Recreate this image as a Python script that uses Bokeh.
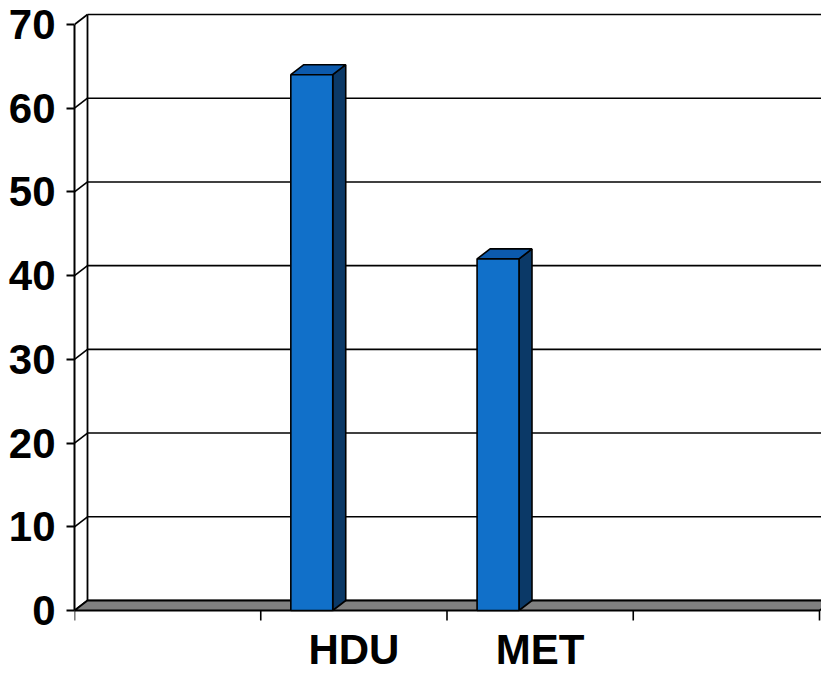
from bokeh.plotting import figure
from bokeh.models import Range1d, FixedTicker
from bokeh.embed import file_html
from bokeh.resources import INLINE
from bokeh.core.properties import value

# Data
categories = ["", "HDU", "MET", ""]
bar_values = [None, 64, 42, None]
y_ticks = [0, 10, 20, 30, 40, 50, 60, 70]

# Geometry (pixels per data unit and 3D depth offset)
PX_X = 186.25
PX_Y = 586 / 70
DX = 13 / PX_X
DY = 10 / PX_Y
BAR_W = 0.225
BAR_SHIFT = -0.226
N = len(categories)
YMAX = y_ticks[-1]

FRONT = "#1170C9"
TOP = "#0C5AAD"
SIDE = "#0B3967"
FLOOR = "#808080"

p = figure(width=821, height=673,
           x_range=Range1d(0, 747 / PX_X),
           y_range=Range1d(-63 / PX_Y, 610 / PX_Y),
           output_backend="svg", toolbar_location=None,
           x_axis_location=None, min_border=0, min_border_left=74)
p.grid.visible = False
p.outline_line_color = None
p.background_fill_color = "white"
p.border_fill_color = "white"

# Y axis (front edge of the left wall)
ax = p.yaxis[0]
ax.ticker = FixedTicker(ticks=y_ticks)
ax.bounds = (0, YMAX)
ax.axis_line_width = 2
ax.major_tick_line_width = 2
ax.major_tick_out = 8
ax.major_tick_in = 0
ax.minor_tick_line_color = None
ax.major_label_standoff = 11
ax.major_label_text_font = "Liberation Sans"
ax.major_label_text_font_style = "bold"
ax.major_label_text_font_size = "42px"
ax.major_label_text_color = "black"

# Back wall gridlines and left-wall connectors
p.segment(x0=[DX] * len(y_ticks), y0=[t + DY for t in y_ticks],
          x1=[N + DX] * len(y_ticks), y1=[t + DY for t in y_ticks],
          line_color="black", line_width=1.6)
p.segment(x0=[0] * len(y_ticks), y0=y_ticks,
          x1=[DX] * len(y_ticks), y1=[t + DY for t in y_ticks],
          line_color="black", line_width=1.6)
p.segment(x0=[DX, N + DX], y0=[DY, DY], x1=[DX, N + DX], y1=[YMAX + DY] * 2,
          line_color="black", line_width=1.8)

# Floor
p.patch(x=[0, N, N + DX, DX], y=[0, 0, DY, DY],
        fill_color=FLOOR, line_color="black", line_width=1.8)

# 3D bars
fx0, fx1, ftop = [], [], []
side_xs, side_ys, top_xs, top_ys = [], [], [], []
for i, v in enumerate(bar_values):
    if v is None:
        continue
    c = i + 0.5 + BAR_SHIFT
    x0, x1 = c - BAR_W / 2, c + BAR_W / 2
    fx0.append(x0); fx1.append(x1); ftop.append(v)
    side_xs.append([x1, x1 + DX, x1 + DX, x1])
    side_ys.append([0, DY, v + DY, v])
    top_xs.append([x0, x0 + DX, x1 + DX, x1])
    top_ys.append([v, v + DY, v + DY, v])

p.patches(xs=side_xs, ys=side_ys, fill_color=SIDE, line_color="black", line_width=1.6)
p.patches(xs=top_xs, ys=top_ys, fill_color=TOP, line_color="black", line_width=1.6)
p.quad(left=fx0, right=fx1, bottom=[0] * len(fx0), top=ftop,
       fill_color=FRONT, line_color="black", line_width=1.6)

# Category tick marks along the front edge of the floor
p.segment(x0=list(range(N + 1)), y0=[0] * (N + 1),
          x1=list(range(N + 1)), y1=[-10 / PX_Y] * (N + 1),
          line_color="black", line_width=1.6)

# Category labels
lab_x = [i + 0.5 for i, c in enumerate(categories) if c]
lab_t = [c for c in categories if c]
p.text(x=lab_x, y=[-39 / PX_Y] * len(lab_x), text=lab_t,
       text_align="center", text_baseline="alphabetic",
       text_font=value("Liberation Sans"), text_font_style="bold",
       text_font_size="42px", text_color="black")

open("out.html", "w").write(file_html(p, INLINE))
